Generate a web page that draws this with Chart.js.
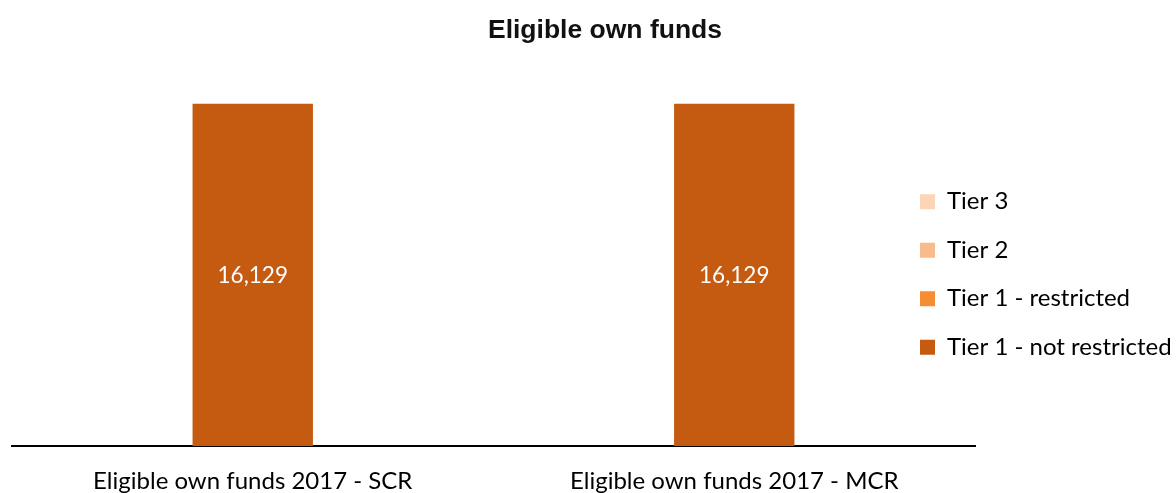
<!DOCTYPE html>
<html>
<head>
<meta charset="utf-8">
<script src="https://cdn.jsdelivr.net/npm/chart.js@4/dist/chart.umd.min.js"></script>
<style>
html,body{margin:0;padding:0;background:#fff;}
#wrap{width:1176px;height:493px;position:relative;}
</style>
</head>
<body>
<div id="wrap"><canvas id="c" width="1176" height="493"></canvas></div>
<script>
const titleText = "Eligible own funds";
const categories = ["Eligible own funds 2017 - SCR", "Eligible own funds 2017 - MCR"];
const seriesNames = ["Tier 1 - not restricted", "Tier 1 - restricted", "Tier 2", "Tier 3"];
const tier1NotRestricted = [16129, 16129];
const tier1Restricted = [0, 0];
const tier2 = [0, 0];
const tier3 = [0, 0];
const seriesColors = ["#C55A11", "#F58D35", "#F9BB8B", "#FBD5B5"];

const seriesValues = [tier1NotRestricted, tier1Restricted, tier2, tier3];

const labelFont = "Lato, 'Open Sans', sans-serif";
const LEGEND_PAD = 24.5;
const PLOT_RIGHT = 975;

const valueLabels = {
  id: 'valueLabels',
  afterDatasetsDraw(chart) {
    const ctx = chart.ctx;
    ctx.save();
    ctx.font = "22.5px " + labelFont;
    ctx.fillStyle = "#ffffff";
    ctx.textAlign = "center";
    ctx.textBaseline = "middle";
    chart.data.datasets.forEach((ds, i) => {
      const meta = chart.getDatasetMeta(i);
      meta.data.forEach((bar, j) => {
        const v = ds.data[j];
        if (!v) return;
        const y = (bar.y + bar.base) / 2 + 1;
        ctx.fillText(v.toLocaleString('en-US'), bar.x, y);
      });
    });
    ctx.restore();
  }
};

const titlePlugin = {
  id: 'titlePlugin',
  afterDraw(chart) {
    const ctx = chart.ctx;
    ctx.save();
    ctx.font = "bold 26.5px 'Liberation Sans', Arial, sans-serif";
    ctx.fillStyle = "#111";
    ctx.textAlign = "center";
    ctx.textBaseline = "alphabetic";
    ctx.fillText(titleText, 605, 38);
    ctx.restore();
  }
};

// Let the legend overlap the right end of the plot area, as in the original
const legendShift = {
  id: 'legendShift',
  afterLayout(chart) {
    const lg = chart.legend;
    if (!lg) return;
    const targetLeft = chart.chartArea.right - 55 - LEGEND_PAD;
    const d = lg.left - targetLeft;
    lg.left -= d;
    lg.right -= d;
    lg.top -= 4;
    lg.bottom -= 4;
  }
};

const chart = new Chart(document.getElementById('c'), {
  type: 'bar',
  data: {
    labels: categories,
    datasets: seriesNames.map((n, i) => ({
      label: n,
      data: seriesValues[i],
      backgroundColor: seriesColors[i],
      borderWidth: 0,
      barPercentage: 0.25,
      categoryPercentage: 1.0
    }))
  },
  options: {
    responsive: false,
    animation: false,
    layout: { padding: { left: 12, top: 64, right: -100, bottom: 0 } },
    plugins: {
      title: { display: false },
      tooltip: { enabled: false },
      legend: {
        position: 'right',
        reverse: true,
        align: 'center',
        labels: {
          boxWidth: 15,
          boxHeight: 15,
          padding: LEGEND_PAD,
          color: '#000',
          font: { family: labelFont, size: 24 }
        }
      }
    },
    scales: {
      x: {
        stacked: true,
        grid: { display: false, drawTicks: false },
        border: { display: true, color: '#000', width: 2 },
        ticks: { color: '#000', padding: 21, font: { family: labelFont, size: 24 } },
        afterFit(scale) { scale.height = 47; }
      },
      y: {
        stacked: true,
        display: false,
        min: 0,
        max: 18000
      }
    }
  },
  plugins: [valueLabels, titlePlugin, legendShift]
});

// Adjust right padding so the plot area ends where the original's does
for (let k = 0; k < 2; k++) {
  const diff = chart.chartArea.right - PLOT_RIGHT;
  if (Math.abs(diff) < 0.5) break;
  chart.options.layout.padding.right += diff;
  chart.update();
}
</script>
</body>
</html>
